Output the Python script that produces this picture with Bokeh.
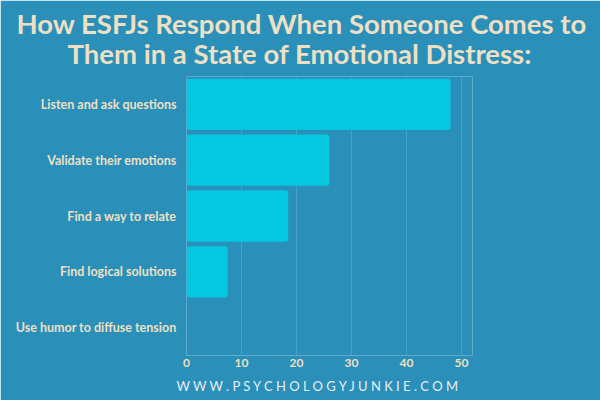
from bokeh.plotting import figure
from bokeh.models import Title, FactorRange
from bokeh.embed import file_html
from bokeh.resources import INLINE

categories = ["Listen and ask questions", "Validate their emotions", "Find a way to relate",
              "Find logical solutions", "Use humor to diffuse tension"]
values = [48, 26, 18.5, 7.5, 0]
x_ticks = [0, 10, 20, 30, 40, 50]
title_lines = ["How ESFJs Respond When Someone Comes to",
               "Them in a State of Emotional Distress:"]
footer = "WWW.PSYCHOLOGYJUNKIE.COM"

BG = "#2a8fb9"
BAR = "#04c8df"
CREAM = "#ede0c4"
FONT = "Lato"

p = figure(width=600, height=400, output_backend="svg", toolbar_location=None,
           y_range=FactorRange(factors=categories[::-1]), x_range=(0, 52),
           min_border_left=186, min_border_right=128, min_border_top=76, min_border_bottom=45,
           background_fill_color=BG, border_fill_color=BG, outline_line_color=None)
p.outline_line_alpha = 0

p.hbar(y=categories, right=values, left=0, height=0.92, fill_color=BAR, line_color=None,
       border_radius=3)

p.xaxis.ticker = x_ticks
p.xaxis.axis_line_color = None
p.xaxis.major_tick_line_color = None
p.xaxis.major_tick_out = 0
p.xaxis.minor_tick_line_color = None
p.xaxis.major_label_text_color = CREAM
p.xaxis.major_label_text_font = FONT
p.xaxis.major_label_text_font_style = "bold"
p.xaxis.major_label_text_font_size = "12px"
p.xaxis.major_label_standoff = 3

p.yaxis.axis_line_color = None
p.yaxis.major_tick_line_color = None
p.yaxis.major_tick_out = 0
p.yaxis.major_label_text_color = CREAM
p.yaxis.major_label_text_font = FONT
p.yaxis.major_label_text_font_style = "bold"
p.yaxis.major_label_text_font_size = "12.5px"
p.yaxis.major_label_standoff = 10

p.ygrid.grid_line_color = None
p.xgrid.grid_line_color = "#5aaed0"
p.xgrid.grid_line_alpha = 0.6
p.xgrid.grid_line_width = 1

for txt, so, off in [(title_lines[1], 13, -119), (title_lines[0], -22, -170)]:
    p.add_layout(Title(text=txt, align="left", offset=off, standoff=so, text_color=CREAM,
                       text_font=FONT, text_font_style="bold", text_font_size="27.5px"), "above")

p.add_layout(Title(text="  ".join(footer), align="left", offset=-10,
                   standoff=12, text_color="#e8eef2", text_font=FONT, text_font_style="normal",
                   text_font_size="13px"), "below")

open("out.html", "w").write(file_html(p, INLINE))
